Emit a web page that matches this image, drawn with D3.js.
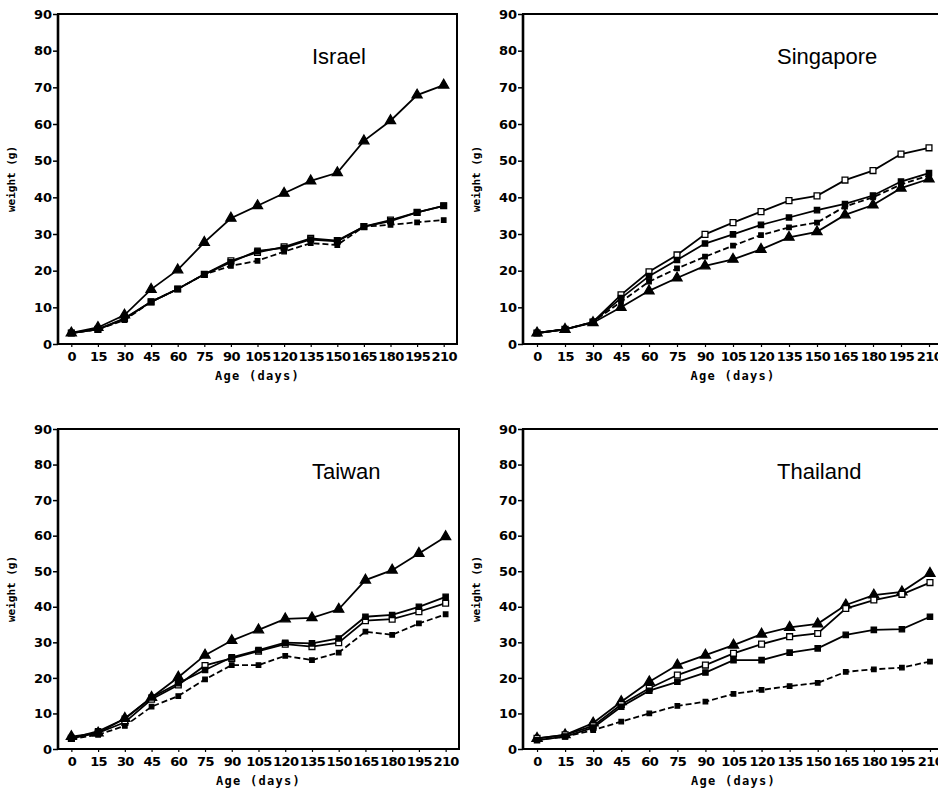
<!DOCTYPE html>
<html>
<head>
<meta charset="utf-8">
<script src="https://cdn.jsdelivr.net/npm/d3@7"></script>
<style>
  body { margin: 0; background: #fff; }
  svg { display: block; }
</style>
</head>
<body>
<div id="chart"></div>
<script>
// ages on the x axis (days) and y ticks (g)
const ages = [0, 15, 30, 45, 60, 75, 90, 105, 120, 135, 150, 165, 180, 195, 210]
const yTicks = [0, 10, 20, 30, 40, 50, 60, 70, 80, 90]
const countries = ['Israel', 'Singapore', 'Taiwan', 'Thailand']

// Israel
const israelTri = [3, 4.5, 7.9, 14.9, 20.2, 27.7, 34.3, 37.7, 41.1, 44.5, 46.7, 55.4, 60.9, 67.9, 70.6]
const israelOpen = [3, 4, 7, 11.5, 15, 19, 22.7, 25, 26.5, 28.8, 28.2, 32, 33.8, 35.9, 37.7]
const israelFilled = [3, 4, 6.8, 11.5, 15, 19, 22.3, 25.4, 26.2, 28.5, 28, 32, 33.5, 35.9, 37.7]
const israelDashed = [3, 4, 6.5, 11.5, 15, 19, 21.3, 22.7, 25.2, 27.5, 27, 32, 32.5, 33.2, 33.8]

// Singapore
const singaporeTri = [3, 4, 5.8, 10, 14.5, 18, 21.3, 23.1, 25.8, 29.1, 30.6, 35.2, 37.9, 42.5, 45]
const singaporeOpen = [3, 4, 6, 13.4, 19.7, 24.3, 29.9, 33.1, 36.1, 39.1, 40.4, 44.7, 47.3, 51.8, 53.5]
const singaporeFilled = [3, 4, 6, 12.5, 18.5, 22.9, 27.4, 29.9, 32.5, 34.5, 36.5, 38.2, 40.5, 44.3, 46.6]
const singaporeDashed = [3, 4, 6, 11.5, 17, 20.6, 23.8, 26.8, 29.7, 31.8, 33.1, 37.5, 40, 43.5, 46]

// Taiwan
const taiwanTri = [3.5, 4.5, 8.6, 14.5, 20.2, 26.4, 30.5, 33.5, 36.6, 36.9, 39.3, 47.5, 50.3, 55, 59.7]
const taiwanOpen = [3, 4.5, 7.5, 14, 18, 23.5, 25.5, 27.5, 29.5, 28.8, 29.9, 36.1, 36.5, 38.6, 41]
const taiwanFilled = [3, 5, 8.5, 14.5, 18.5, 22.2, 25.8, 27.8, 29.9, 29.7, 31.1, 37.2, 37.7, 40, 42.8]
const taiwanDashed = [2.8, 4, 6.5, 11.9, 14.9, 19.6, 23.6, 23.6, 26.2, 25, 27.1, 33, 32.1, 35.3, 37.9]

// Thailand
const thailandTri = [3, 4, 7.3, 13.3, 18.9, 23.6, 26.4, 29.2, 32.3, 34.2, 35.2, 40.5, 43.3, 44.2, 49.4]
const thailandOpen = [3, 4, 6.5, 12.5, 17.1, 20.8, 23.6, 26.9, 29.5, 31.6, 32.5, 39.5, 41.9, 43.5, 46.8]
const thailandFilled = [2.5, 3.5, 6, 11.9, 16.4, 18.9, 21.5, 25, 25, 27.1, 28.3, 32.1, 33.5, 33.7, 37.2]
const thailandDashed = [2.5, 3.5, 5.3, 7.7, 10, 12.1, 13.3, 15.5, 16.6, 17.7, 18.6, 21.7, 22.4, 22.9, 24.6]

const seriesByCountry = {
  Israel: [israelTri, israelOpen, israelFilled, israelDashed],
  Singapore: [singaporeTri, singaporeOpen, singaporeFilled, singaporeDashed],
  Taiwan: [taiwanTri, taiwanOpen, taiwanFilled, taiwanDashed],
  Thailand: [thailandTri, thailandOpen, thailandFilled, thailandDashed],
}

// panel boxes (the right column runs past the page edge, like the scan)
const boxes = [
  { left: 58, top: 14, width: 399, height: 330 },
  { left: 523, top: 14, width: 420, height: 330 },
  { left: 58, top: 429, width: 401, height: 320 },
  { left: 523, top: 429, width: 421, height: 320 },
]

// marker + line style for the 4 groups
const styles = [
  { symbol: d3.symbolTriangle, size: 44, fill: '#000', dash: null },
  { symbol: d3.symbolSquare, size: 34, fill: '#fff', dash: null },
  { symbol: d3.symbolSquare, size: 28, fill: '#000', dash: null },
  { symbol: d3.symbolSquare, size: 20, fill: '#000', dash: '6,3' },
]

const svg = d3
  .select('#chart')
  .append('svg')
  .attr('width', 938)
  .attr('height', 788)

const tickFont = "'DejaVu Sans', sans-serif"
const labelFont = "'DejaVu Sans Mono', monospace"

countries.forEach((country, ci) => {
  const b = boxes[ci]
  const g = svg.append('g').attr('class', 'panel')

  var xScale = d3
    .scalePoint()
    .domain(ages)
    .range([b.left, b.left + b.width])
    .padding(0.5)
  var yScale = d3
    .scaleLinear()
    .domain([0, 90])
    .range([b.top + b.height, b.top])

  // y axis
  g.append('g')
    .attr('transform', `translate(${b.left}, 0)`)
    .call(d3.axisLeft(yScale).tickValues(yTicks).tickSize(5).tickPadding(1))
    .call(g => g.select('.domain').remove())
    .call(g => {
      g.selectAll('.tick line').attr('stroke', '#000').attr('stroke-width', 1.5)
      g.selectAll('.tick text')
        .style('font-family', tickFont)
        .style('font-size', '13px')
        .style('font-weight', 'bold')
        .attr('fill', '#000')
    })

  // x axis
  g.append('g')
    .attr('transform', `translate(0, ${b.top + b.height})`)
    .call(d3.axisBottom(xScale).tickSize(3).tickPadding(5))
    .call(g => g.select('.domain').remove())
    .call(g => {
      g.selectAll('.tick line').attr('stroke', '#000').attr('stroke-width', 1.2)
      g.selectAll('.tick text')
        .style('font-family', tickFont)
        .style('font-size', '13px')
        .style('font-weight', 'bold')
        .style('letter-spacing', '-0.6px')
        .attr('fill', '#000')
    })

  // frame
  g.append('rect')
    .attr('x', b.left)
    .attr('y', b.top)
    .attr('width', b.width)
    .attr('height', b.height)
    .attr('fill', 'none')
    .attr('stroke', '#000')
    .attr('stroke-width', 2)
  g.append('line')
    .attr('x1', b.left)
    .attr('x2', b.left)
    .attr('y1', b.top)
    .attr('y2', b.top + b.height)
    .attr('stroke', '#000')
    .attr('stroke-width', 2.6)

  // axis labels
  g.append('text')
    .attr('x', b.left + b.width / 2)
    .attr('y', b.top + b.height + 36)
    .attr('text-anchor', 'middle')
    .style('font-family', labelFont)
    .style('font-size', '12px')
    .style('font-weight', 'bold')
    .style('letter-spacing', '1.3px')
    .text('Age (days)')

  g.append('text')
    .attr(
      'transform',
      `translate(${b.left - 43}, ${b.top + b.height / 2}) rotate(-90)`,
    )
    .attr('text-anchor', 'middle')
    .style('font-family', labelFont)
    .style('font-size', '11px')
    .style('font-weight', 'bold')
    .text('weight (g)')

  // country title
  g.append('text')
    .attr('x', b.left + 254)
    .attr('y', b.top + 50)
    .style('font-family', "'Liberation Sans', Arial, sans-serif")
    .style('font-size', '22px')
    .text(country)

  var line = d3
    .line()
    .x((d, i) => xScale(ages[i]))
    .y(d => yScale(d))

  seriesByCountry[country].forEach((values, si) => {
    const st = styles[si]
    g.append('path')
      .datum(values)
      .attr('d', line)
      .attr('fill', 'none')
      .attr('stroke', '#000')
      .attr('stroke-width', 1.8)
      .attr('stroke-dasharray', st.dash)

    g.selectAll('.m' + si)
      .data(values)
      .enter()
      .append('path')
      .attr('class', 'm' + si)
      .attr('d', d3.symbol().type(st.symbol).size(st.size))
      .attr('transform', (d, i) => `translate(${xScale(ages[i])}, ${yScale(d)})`)
      .attr('fill', st.fill)
      .attr('stroke', '#000')
      .attr('stroke-width', 1.3)
  })
})
</script>
</body>
</html>
